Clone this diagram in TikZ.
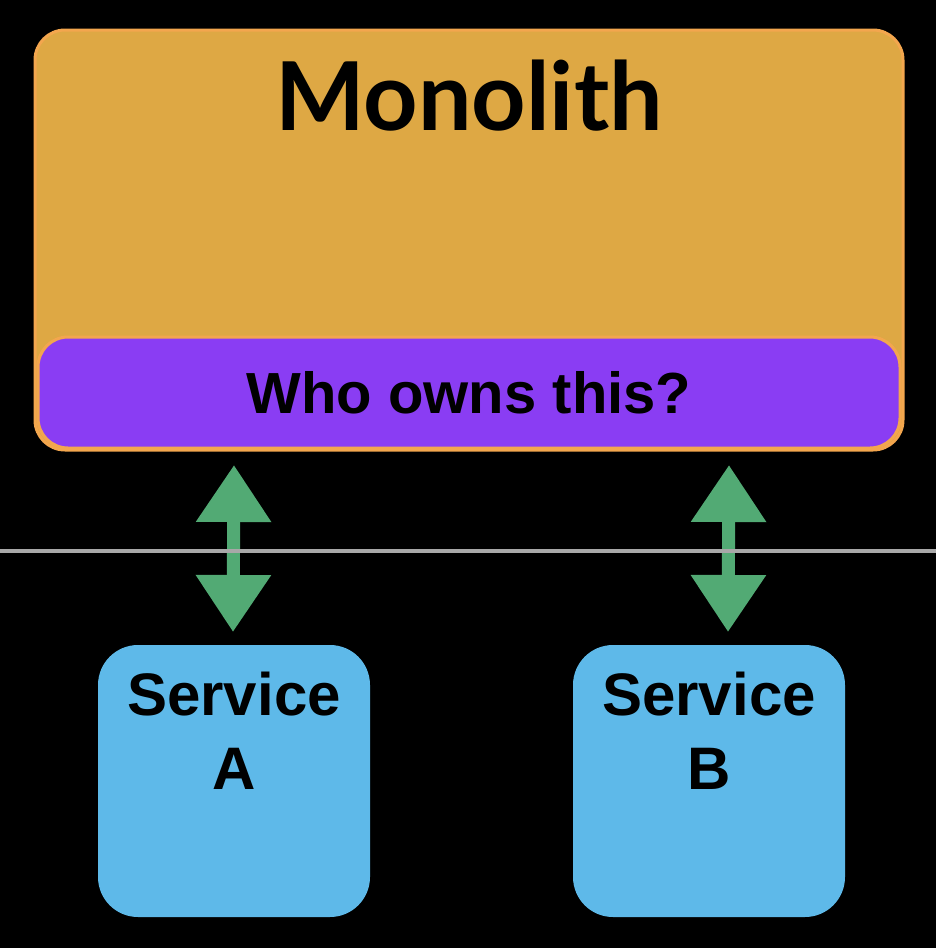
\documentclass[tikz,border=0pt]{standalone}
\usepackage{fontspec}
\setmainfont{Liberation Sans}
\newfontfamily\latofont{Lato}
\usetikzlibrary{arrows.meta}
\definecolor{monofill}{RGB}{222,168,68}
\definecolor{monoedge}{RGB}{243,166,78}
\definecolor{ownfill}{RGB}{138,61,243}
\definecolor{svcfill}{RGB}{94,185,233}
\definecolor{arrgreen}{RGB}{82,170,116}
\definecolor{divider}{RGB}{168,168,168}
\tikzset{
  monobox/.style={draw=monoedge, line width=3pt, fill=monofill, rounded corners=30pt,
    minimum width=868pt, minimum height=420pt, inner sep=0pt},
  ownbox/.style={draw=monoedge, line width=3pt, fill=ownfill, rounded corners=30pt,
    minimum width=862pt, minimum height=111pt, inner sep=0pt,
    font=\fontsize{58}{60}\selectfont\bfseries},
  svcbox/.style={fill=svcfill, rounded corners=40pt, minimum width=272pt,
    minimum height=272pt, inner sep=0pt},
  svctext/.style={align=center, inner sep=0pt, anchor=north,
    font=\fontsize{60}{74}\selectfont\bfseries},
  dblarrow/.style={draw=arrgreen, line width=13pt,
    {Triangle[width=72pt,length=57pt]}-{Triangle[width=72pt,length=57pt]}},
}
\begin{document}
\begin{tikzpicture}[x=1pt,y=-1pt]
\fill[black] (0,0) rectangle (936,948);
\useasboundingbox (0,0) rectangle (936,948);
\node[monobox] (mono) at (469,240) {};
\node[inner sep=0pt, font=\latofont\bfseries\fontsize{95}{100}\selectfont] (monotitle) at (469,96) {Monolith};
\node[ownbox] (own) at (469,392.5) {Who owns this?};
\node[svcbox] (A) at (234,781) {};
\node[svcbox] (B) at (709,781) {};
\node[svctext] (Atext) at (234,672) {Service\\A};
\node[svctext] (Btext) at (709,672) {Service\\B};
\coordinate (at) at (234,465);
\coordinate (ab) at (233,632);
\coordinate (bt) at (729,465);
\coordinate (bb) at (728,632);
\draw[dblarrow] (at) -- (ab);
\draw[dblarrow] (bt) -- (bb);
\coordinate (dl) at (0,551);
\coordinate (dr) at (936,551);
\draw[divider, line width=4pt] (dl) -- (dr);
\end{tikzpicture}
\end{document}
